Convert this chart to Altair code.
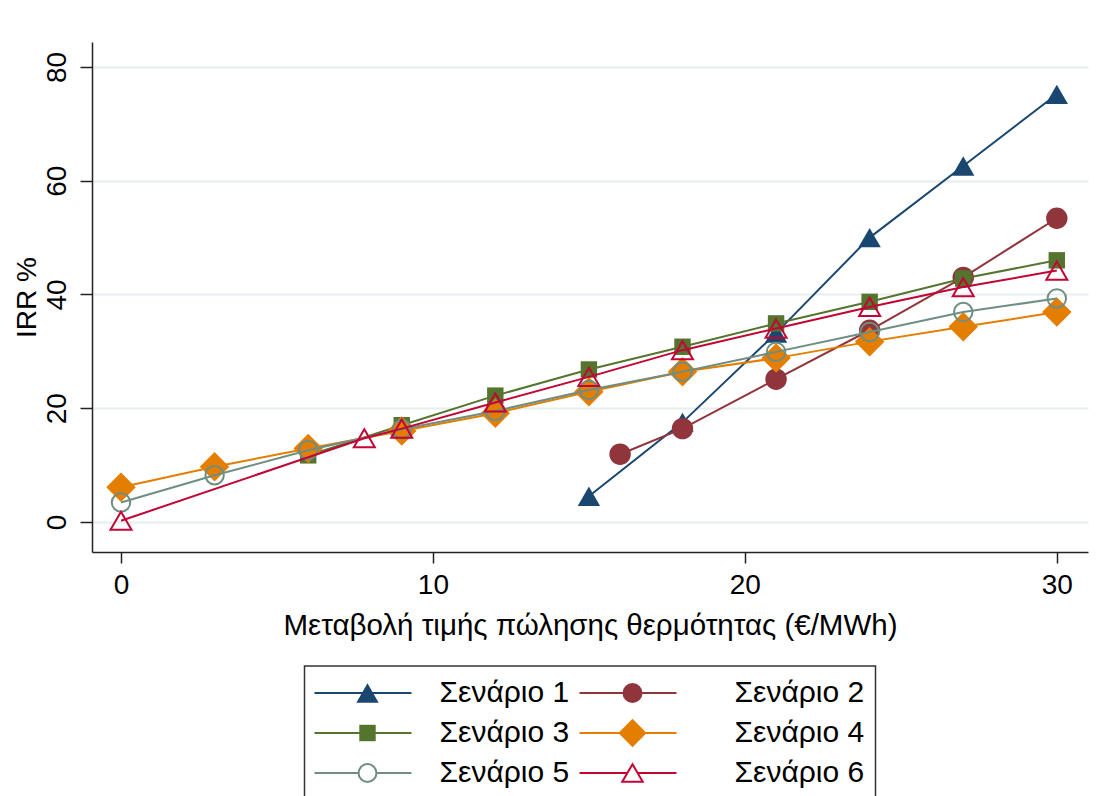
import altair as alt
import pandas as pd

# ---- data ----
names = ["Σενάριο 1", "Σενάριο 2", "Σενάριο 3", "Σενάριο 4", "Σενάριο 5", "Σενάριο 6"]

s1_x = [15, 18, 21, 24, 27, 30]
s1_y = [4.5, 17.5, 33.2, 50.0, 62.6, 75.2]

s2_x = [16, 18, 21, 24, 27, 30]
s2_y = [11.9, 16.4, 25.1, 33.7, 43.0, 53.4]

s3_x = [6, 9, 12, 15, 18, 21, 24, 27, 30]
s3_y = [11.7, 17.0, 22.2, 26.8, 30.8, 34.9, 38.7, 42.8, 46.0]

s4_x = [0, 3, 6, 9, 12, 15, 18, 21, 24, 27, 30]
s4_y = [6.1, 9.7, 12.9, 16.0, 19.1, 22.9, 26.4, 28.8, 31.7, 34.3, 36.9]

s5_x = [0, 3, 6, 9, 12, 15, 18, 21, 24, 27, 30]
s5_y = [3.4, 8.2, 12.6, 16.3, 19.5, 23.2, 26.4, 29.9, 33.4, 36.9, 39.3]

s6_x = [0, 7.8, 9, 12, 15, 18, 21, 24, 27, 30]
s6_y = [0.2, 14.7, 16.4, 21.0, 25.5, 30.2, 34.0, 37.8, 41.3, 44.2]

x_ticks = [0, 10, 20, 30]
y_ticks = [0, 20, 40, 60, 80]

# ---- styles ----
colors = ["#1a476f", "#90353b", "#55752f", "#e37e00", "#6e8e84", "#c10534"]
shapes = ["triangle-up", "circle", "square", "diamond", "circle", "triangle-up"]
sizes = [500, 460, 270, 870, 340, 440]
leg_sizes = [500, 400, 270, 800, 320, 420]
filled = [True, True, True, True, False, False]

FONT = "Liberation Sans"
FS = 28
TFS = 29.5
LFS = 30

series = [(s1_x, s1_y), (s2_x, s2_y), (s3_x, s3_y), (s4_x, s4_y), (s5_x, s5_y), (s6_x, s6_y)]
rows = []
for name, (xs, ys) in zip(names, series):
    for xv, yv in zip(xs, ys):
        rows.append({"scenario": name, "x": xv, "y": yv})
df = pd.DataFrame(rows)

X = alt.X(
    "x:Q",
    scale=alt.Scale(domain=[-0.93, 31.0], nice=False, zero=False),
    axis=alt.Axis(
        values=x_ticks, grid=False, title="Μεταβολή τιμής πώλησης θερμότητας (€/MWh)",
        labelFontSize=FS, titleFontSize=TFS, labelFont=FONT, titleFont=FONT,
        labelColor="black", titleColor="black", titleFontWeight="normal",
        domainColor="#222222", domainWidth=1.5, tickColor="#222222", tickWidth=1.5,
        tickSize=11, labelPadding=8, titlePadding=12,
    ),
)
Y = alt.Y(
    "y:Q",
    scale=alt.Scale(domain=[-5.3, 84.4], nice=False, zero=False),
    axis=alt.Axis(
        values=y_ticks, grid=True, gridColor="#e6eef0", gridWidth=2,
        title="IRR %", labelAngle=270, labelAlign="center", labelBaseline="bottom",
        labelFontSize=FS, titleFontSize=FS, labelFont=FONT, titleFont=FONT,
        labelColor="black", titleColor="black", titleFontWeight="normal",
        domainColor="#222222", domainWidth=1.5, tickColor="#222222", tickWidth=1.5,
        tickSize=12, labelPadding=9, titlePadding=2,
    ),
)

layers = []
for i, name in enumerate(names):
    sub = df[df["scenario"] == name]
    layers.append(
        alt.Chart(sub).mark_line(color=colors[i], strokeWidth=2).encode(x=X, y=Y)
    )
    if filled[i]:
        pt = alt.Chart(sub).mark_point(
            shape=shapes[i], size=sizes[i], filled=True, fill=colors[i],
            strokeWidth=0, opacity=1,
        )
    else:
        pt = alt.Chart(sub).mark_point(
            shape=shapes[i], size=sizes[i], filled=False, stroke=colors[i],
            strokeWidth=2, opacity=1,
        )
    layers.append(pt.encode(x=X, y=Y))

main = alt.layer(*layers).properties(width=996, height=510)

# ---- legend panel (Stata-style, line + marker) ----
LW, LH = 571, 150
leg_rows = []
for i, name in enumerate(names):
    col, row = i % 2, i // 2
    x0 = 10 + col * 265
    yy = 27 + row * 40
    leg_rows.append({
        "scenario": name, "x0": x0, "x1": x0 + 97, "xm": x0 + 53,
        "xt": x0 + 125 + col * 30, "yy": yy,
    })
leg = pd.DataFrame(leg_rows)

LX = alt.Scale(domain=[0, LW], nice=False, zero=False)
LY = alt.Scale(domain=[0, LH], nice=False, zero=False, reverse=True)

leg_layers = []
for i, name in enumerate(names):
    sub = leg[leg["scenario"] == name]
    leg_layers.append(
        alt.Chart(sub).mark_rule(strokeWidth=2, color=colors[i]).encode(
            x=alt.X("x0:Q", scale=LX, axis=None), x2="x1:Q",
            y=alt.Y("yy:Q", scale=LY, axis=None),
        )
    )
    if filled[i]:
        lp = alt.Chart(sub).mark_point(
            shape=shapes[i], size=leg_sizes[i], filled=True, fill=colors[i],
            strokeWidth=0, opacity=1,
        )
    else:
        lp = alt.Chart(sub).mark_point(
            shape=shapes[i], size=leg_sizes[i], filled=True, fill="white",
            stroke=colors[i], strokeWidth=2, opacity=1,
        )
    leg_layers.append(
        lp.encode(x=alt.X("xm:Q", scale=LX, axis=None), y=alt.Y("yy:Q", scale=LY, axis=None))
    )
leg_layers.append(
    alt.Chart(leg).mark_text(
        align="left", baseline="middle", fontSize=LFS, font=FONT, color="black"
    ).encode(
        x=alt.X("xt:Q", scale=LX, axis=None),
        y=alt.Y("yy:Q", scale=LY, axis=None),
        text="scenario:N",
    )
)
legend_panel = alt.layer(*leg_layers).properties(
    width=LW, height=LH,
    view=alt.ViewBackground(stroke="#333333", strokeWidth=1.5),
)

chart = alt.vconcat(main, legend_panel, spacing=114, bounds="flush", center=True).properties(
    padding={"top": 34, "left": 4, "right": 5, "bottom": 5},
    background="white",
).configure_view(strokeWidth=0)

chart.save("out.html", embed_options={"renderer": "svg", "actions": False})
